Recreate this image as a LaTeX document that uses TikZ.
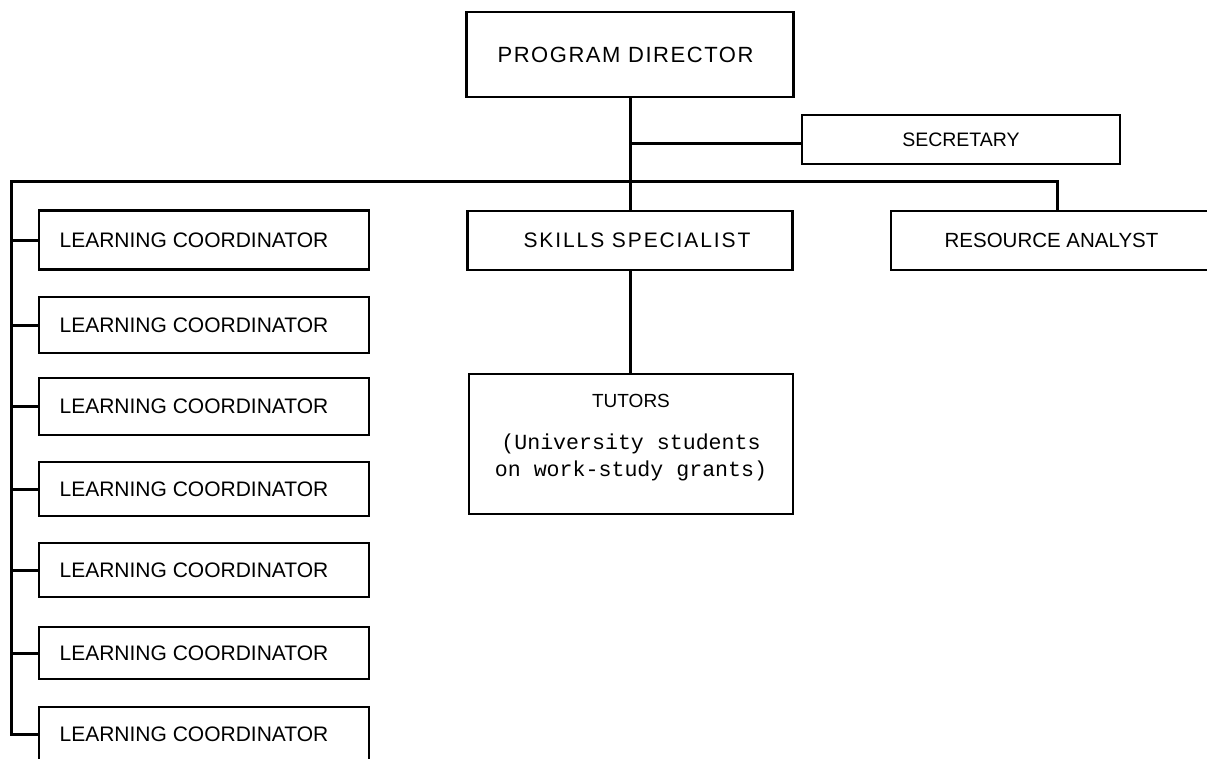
\documentclass[tikz,border=0pt]{standalone}
\usepackage{fontspec}
\setmainfont{Liberation Sans}
\newfontfamily\monof{Liberation Mono}
\begin{document}
\begin{tikzpicture}[x=1pt,y=-1pt,line width=3pt,
  box/.style={draw,rectangle,inner sep=0pt,line width=2.8pt,
    font=\fontsize{21}{24}\selectfont},
  lcbox/.style={box,minimum width=330pt}]
\useasboundingbox (0,0) rectangle (1207,758);
% boxes
\node[box,minimum width=327pt,minimum height=85pt] (pd) at (630,54.5)
  {\fontsize{22}{26}\selectfont\addfontfeature{LetterSpace=7}PROGRAM DIRECTOR\kern 9pt};
\node[box,minimum width=318pt,minimum height=49pt] (sec) at (961,139.5)
  {\fontsize{19.5}{24}\selectfont SECRETARY};
\node[box,minimum width=325pt,minimum height=59pt] (ss) at (630,240.5)
  {\kern 14pt\addfontfeature{LetterSpace=9}SKILLS SPECIALIST};
\node[box,minimum width=332pt,minimum height=59pt] (ra) at (1057,240.5)
  {\fontsize{20.5}{24}\selectfont RESOURCE ANALYST\kern 11pt};
\node[box,minimum width=324pt,minimum height=140pt] (tu) at (631,444) {};
\node[inner sep=0pt,font=\fontsize{19}{24}\selectfont] (tut) at (631,401) {TUTORS};
\node[inner sep=0pt,align=center,font=\monof\fontsize{21.6}{27}\selectfont] (tus) at (631,457)
  {(University students\\on work-study grants)};
\node[lcbox,minimum height=59pt] (lc1) at (204,240) {LEARNING COORDINATOR\kern 20pt};
\node[lcbox,minimum height=56pt] (lc2) at (204,325) {LEARNING COORDINATOR\kern 20pt};
\node[lcbox,minimum height=57pt] (lc3) at (204,406.5) {LEARNING COORDINATOR\kern 20pt};
\node[lcbox,minimum height=54pt] (lc4) at (204,489) {LEARNING COORDINATOR\kern 20pt};
\node[lcbox,minimum height=54pt] (lc5) at (204,570) {LEARNING COORDINATOR\kern 20pt};
\node[lcbox,minimum height=52pt] (lc6) at (204,653) {LEARNING COORDINATOR\kern 20pt};
\node[lcbox,minimum height=54pt] (lc7) at (204,734) {LEARNING COORDINATOR\kern 20pt};
% junctions
\coordinate (jsec) at (630,143);
\coordinate (L) at (11,181);
\coordinate (R) at (1057,181);
% connectors
\draw (pd.south) -- (ss.north);
\draw (jsec) -- (jsec -| sec.west);
\draw (ra.north) -- (R) -- (L) -- (L |- lc7.west) -- (lc7.west);
\foreach \i in {1,...,6}{\draw (L |- lc\i.west) -- (lc\i.west);}
\draw (ss.south) -- (ss.south |- tu.north);
\end{tikzpicture}
\end{document}
